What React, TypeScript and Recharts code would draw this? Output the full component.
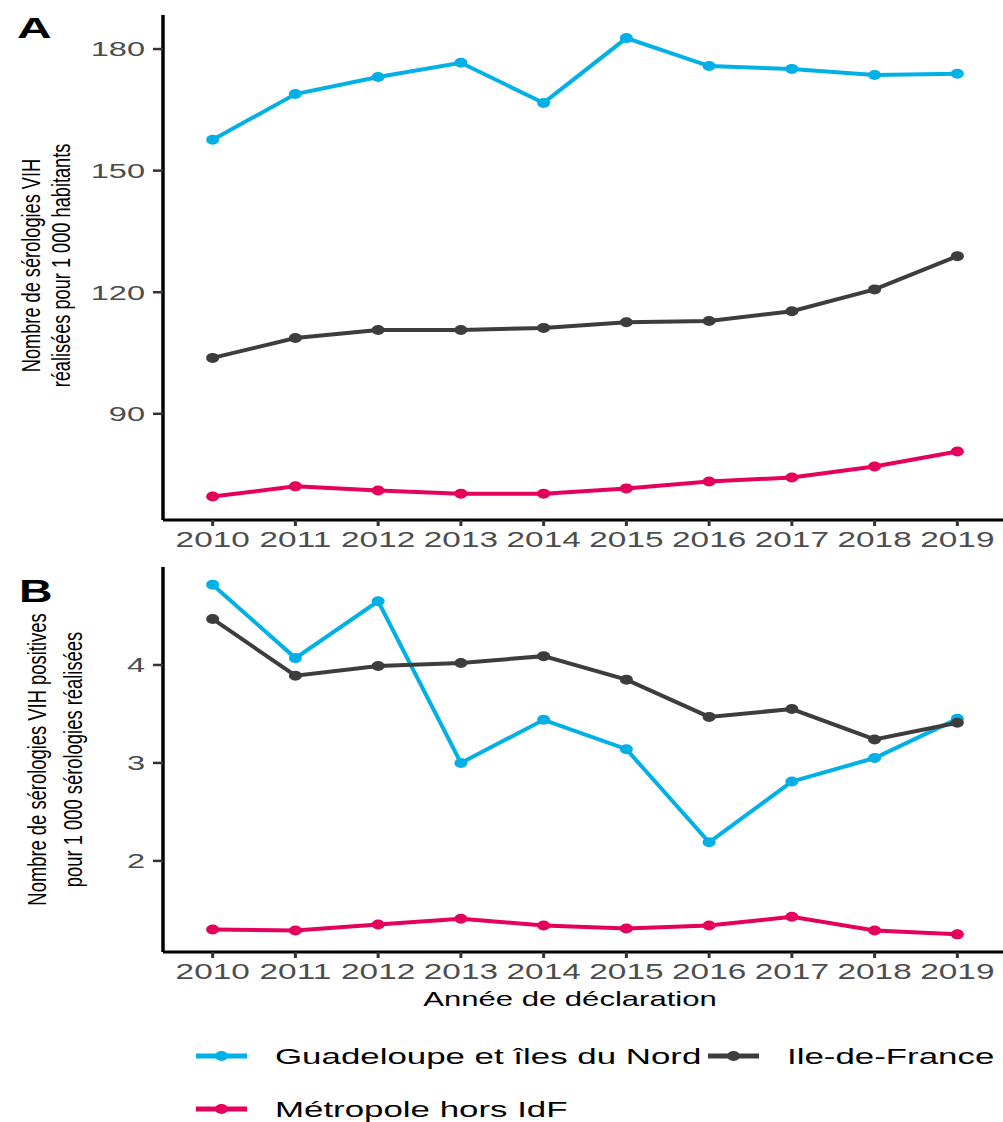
import React from "react";
import { LineChart, Line, XAxis, YAxis } from "recharts";

// values
const years = [2010, 2011, 2012, 2013, 2014, 2015, 2016, 2017, 2018, 2019];
const guadA = [157.6, 168.9, 173.1, 176.6, 166.7, 182.7, 175.8, 175.1, 173.6, 173.9];
const idfA = [103.8, 108.7, 110.7, 110.7, 111.2, 112.6, 112.9, 115.3, 120.7, 128.9];
const metroA = [69.6, 72.1, 71.1, 70.3, 70.3, 71.6, 73.3, 74.3, 77.0, 80.7];
const guadB = [4.82, 4.07, 4.65, 3.0, 3.44, 3.14, 2.19, 2.81, 3.05, 3.45];
const idfB = [4.47, 3.89, 3.99, 4.02, 4.09, 3.85, 3.47, 3.55, 3.24, 3.41];
const metroB = [1.3, 1.29, 1.35, 1.41, 1.34, 1.31, 1.34, 1.43, 1.29, 1.25];

const ticksA = [90, 120, 150, 180];
const ticksB = [2, 3, 4];

const seriesNames = ["Guadeloupe et îles du Nord", "Ile-de-France", "Métropole hors IdF"];
const colors = ["#00B0E6", "#3d3d3d", "#E5005B"];

const dataA = years.map((y, i) => ({ year: y, guad: guadA[i], idf: idfA[i], metro: metroA[i] }));
const dataB = years.map((y, i) => ({ year: y, guad: guadB[i], idf: idfB[i], metro: metroB[i] }));

const FONT = "'Liberation Sans', Arial, sans-serif";
const SX = 1.55; // the picture is stretched horizontally

const Dot = (color: string) => (props: any) => {
  const { cx, cy } = props;
  if (cx == null || cy == null) return null;
  return <ellipse cx={cx} cy={cy} rx={6.5} ry={5} fill={color} />;
};

const YTick = (props: any) => {
  const { x, y, payload } = props;
  return (
    <text
      transform={`translate(${x},${y}) scale(${SX},1)`}
      textAnchor="end"
      dominantBaseline="central"
      fontSize={21}
      fontFamily={FONT}
      fill="#4d4d4d"
    >
      {payload.value}
    </text>
  );
};

const XTick = (props: any) => {
  const { x, y, payload } = props;
  return (
    <text
      transform={`translate(${x},${y + 12}) scale(${SX},1)`}
      textAnchor="middle"
      dominantBaseline="central"
      fontSize={21.5}
      fontFamily={FONT}
      fill="#4d4d4d"
    >
      {payload.value}
    </text>
  );
};

const yTitle = (lines: string[], xs: number[], fontSize: number, shift: number) => (props: any) => {
  const vb = props.viewBox || {};
  const cy = vb.y + vb.height / 2 + shift;
  return (
    <g>
      {lines.map((t, i) => (
        <text
          key={i}
          transform={`translate(${xs[i]},${cy}) rotate(-90) scale(1,1.38)`}
          textAnchor="middle"
          dominantBaseline="central"
          fontSize={fontSize}
          fontFamily={FONT}
          fill="#000"
        >
          {t}
        </text>
      ))}
    </g>
  );
};

const xTitle = (props: any) => {
  const vb = props.viewBox || {};
  return (
    <text
      transform={`translate(570,${vb.y + 47}) scale(1.48,1)`}
      textAnchor="middle"
      dominantBaseline="central"
      fontSize={21}
      fontFamily={FONT}
      fill="#000"
    >
      Année de déclaration
    </text>
  );
};

const renderLines = () =>
  ["guad", "idf", "metro"].map((k, i) => (
    <Line
      key={k}
      dataKey={k}
      name={seriesNames[i]}
      stroke={colors[i]}
      strokeWidth={4}
      dot={Dot(colors[i])}
      activeDot={false}
      isAnimationActive={false}
    />
  ));

const Panel = ({ data, domain, ticks, height, marginTop, xHeight, title, titleXs, titleFont, titleShift, xLabel }: any) => (
  <LineChart width={1010} height={height} data={data} margin={{ top: marginTop, right: 3, left: 0, bottom: 0 }}>
    <XAxis
      type="number"
      dataKey="year"
      domain={[2009.4, 2019.6]}
      ticks={years}
      allowDataOverflow
      height={xHeight}
      tick={<XTick />}
      tickSize={6}
      tickMargin={2}
      axisLine={{ stroke: "#000", strokeWidth: 3 }}
      tickLine={{ stroke: "#333", strokeWidth: 3 }}
      label={xLabel ? { content: xTitle } : undefined}
    />
    <YAxis
      type="number"
      domain={domain}
      ticks={ticks}
      allowDataOverflow
      width={163}
      tick={<YTick />}
      tickSize={10}
      tickMargin={8}
      axisLine={{ stroke: "#000", strokeWidth: 3.5 }}
      tickLine={{ stroke: "#333", strokeWidth: 2.5 }}
      label={{ content: yTitle(title, titleXs, titleFont, titleShift) }}
    />
    {renderLines()}
  </LineChart>
);

const legendRows = [
  { idx: 0, x: 196, y: 1056 },
  { idx: 1, x: 708, y: 1056 },
  { idx: 2, x: 196, y: 1109 },
];

export default function App() {
  return (
    <div
      style={{
        position: "absolute",
        left: 0,
        top: 0,
        width: 1003,
        height: 1122,
        overflow: "hidden",
        background: "#fff",
      }}
    >
      <div style={{ position: "absolute", left: 0, top: 0 }}>
        <Panel
          data={dataA}
          domain={[63.8, 188.4]}
          ticks={ticksA}
          height={560}
          marginTop={15}
          xHeight={40}
          title={["Nombre de sérologies VIH", "réalisées pour 1 000 habitants"]}
          titleXs={[31, 61.5]}
          titleFont={18.2}
          titleShift={-2}
        />
      </div>
      <div style={{ position: "absolute", left: 0, top: 545 }}>
        <Panel
          data={dataB}
          domain={[1.07, 5.0]}
          ticks={ticksB}
          height={477}
          marginTop={22}
          xHeight={70}
          title={["Nombre de sérologies VIH positives", "pour 1 000 sérologies réalisées"]}
          titleXs={[37.5, 73.5]}
          titleFont={18.4}
          titleShift={0}
          xLabel
        />
      </div>
      <svg
        width={1003}
        height={1122}
        style={{ position: "absolute", left: 0, top: 0, pointerEvents: "none" }}
      >
        <text transform={`translate(17,38) scale(1.6,1)`} fontSize={30} fontWeight="bold" fontFamily={FONT} fill="#000">
          A
        </text>
        <text transform={`translate(19,602) scale(1.5,1)`} fontSize={31} fontWeight="bold" fontFamily={FONT} fill="#000">
          B
        </text>
        {legendRows.map((r) => (
          <g key={r.idx}>
            <line x1={r.x} x2={r.x + 51} y1={r.y} y2={r.y} stroke={colors[r.idx]} strokeWidth={5} />
            <ellipse cx={r.x + 25.5} cy={r.y} rx={6.5} ry={5} fill={colors[r.idx]} />
            <text
              transform={`translate(${r.x + 79},${r.y}) scale(${SX},1)`}
              dominantBaseline="central"
              fontSize={22.5}
              fontFamily={FONT}
              fill="#000"
            >
              {seriesNames[r.idx]}
            </text>
          </g>
        ))}
      </svg>
    </div>
  );
}
